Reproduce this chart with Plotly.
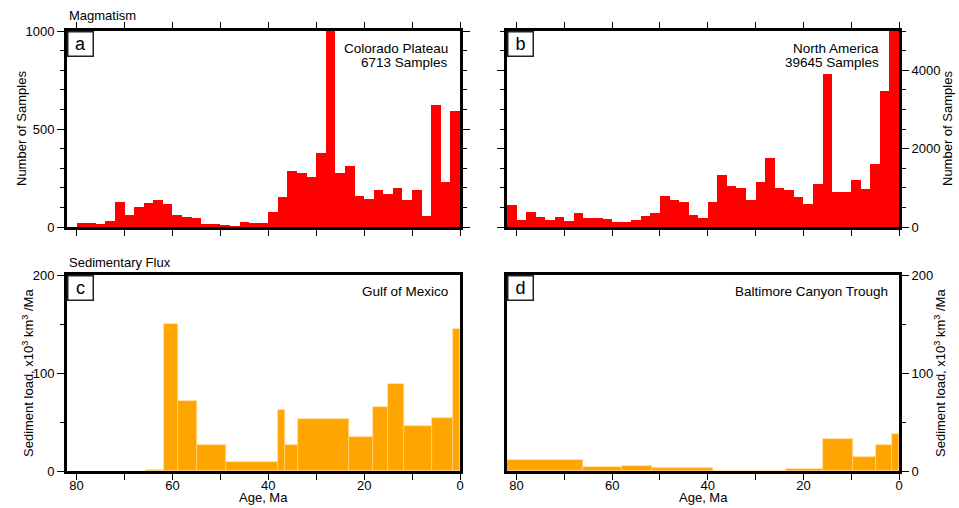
import plotly.graph_objects as go

# ---------------- data ----------------
# Panel a: Colorado Plateau, 2 Ma bins from 80 to 0 Ma (bin centres)
bins_a = [79, 77, 75, 73, 71, 69, 67, 65, 63, 61, 59, 57, 55, 53, 51, 49, 47, 45, 43, 41,
          39, 37, 35, 33, 31, 29, 27, 25, 23, 21, 19, 17, 15, 13, 11, 9, 7, 5, 3, 1]
counts_a = [20, 20, 15, 30, 128, 61, 102, 122, 138, 117, 61, 51, 46, 15, 15, 10, 2, 25, 20, 20,
            77, 153, 286, 276, 255, 378, 1050, 276, 311, 158, 143, 189, 168, 199, 138, 189, 56, 622, 230, 592]

# Panel b: North America, 2 Ma bins from 82 to 0 Ma (bin centres)
bins_b = [81, 79, 77, 75, 73, 71, 69, 67, 65, 63, 61, 59, 57, 55, 53, 51, 49, 47, 45, 43, 41,
          39, 37, 35, 33, 31, 29, 27, 25, 23, 21, 19, 17, 15, 13, 11, 9, 7, 5, 3, 1]
counts_b = [561, 179, 383, 255, 179, 255, 153, 357, 230, 230, 204, 128, 128, 179, 281, 357, 791, 689, 638, 306, 230,
            638, 1327, 1046, 995, 689, 1148, 1760, 995, 944, 765, 587, 1097, 3903, 893, 893, 1199, 969, 1607, 3469, 8000]

# Panel c: Gulf of Mexico sediment flux (interval edges in Ma, values)
edges_c = [65.5, 61.8, 58.8, 54.8, 48.9, 38.0, 36.6, 33.9, 23.1, 18.1, 15.0, 11.6, 5.8, 1.5, 0.0]
flux_c = [1.5, 150, 71, 27, 9, 62, 27, 53, 35, 65, 89, 46, 54, 145]

# Panel d: Baltimore Canyon Trough
edges_d = [85.0, 66.0, 57.9, 51.6, 39.0, 23.7, 16.0, 9.6, 4.8, 1.45, 0.0]
flux_d = [11, 3.8, 4.8, 2.7, 0, 1.7, 32.5, 14.7, 27, 38]

age_ticks = [0, 20, 40, 60, 80]

RED = "#FF0000"
ORANGE = "#FFA500"
FONT = "Liberation Sans, Arial, Helvetica, sans-serif"

W, H = 959, 508


def px(x):
    return x / W


def py(y):
    return 1 - y / H


def steps(edges):
    centers = [(edges[i] + edges[i + 1]) / 2 for i in range(len(edges) - 1)]
    widths = [edges[i] - edges[i + 1] for i in range(len(edges) - 1)]
    return centers, widths


fig = go.Figure()
fig.add_trace(go.Bar(x=bins_a, y=counts_a, width=[2] * len(bins_a), marker=dict(color=RED, line=dict(width=0)),
                     xaxis="x", yaxis="y", showlegend=False))
fig.add_trace(go.Bar(x=bins_b, y=counts_b, width=[2] * len(bins_b), marker=dict(color=RED, line=dict(width=0)),
                     xaxis="x2", yaxis="y2", showlegend=False))
cc, wc = steps(edges_c)
fig.add_trace(go.Bar(x=cc, y=flux_c, width=wc, marker=dict(color=ORANGE, line=dict(width=0.6, color="#FFD890")),
                     xaxis="x3", yaxis="y3", showlegend=False))
cd, wd = steps(edges_d)
fig.add_trace(go.Bar(x=cd, y=flux_d, width=wd, marker=dict(color=ORANGE, line=dict(width=0.6, color="#FFD890")),
                     xaxis="x4", yaxis="y4", showlegend=False))

dom_xl = [px(67), px(460)]
dom_xr = [px(507), px(899)]
dom_yt = [py(227), py(31)]
dom_yb = [py(471), py(275)]

tickfont = dict(family=FONT, size=13, color="black")


def xax(domain, anchor, labels, top_ticks):
    return dict(domain=domain, anchor=anchor, range=[82, 0], tickvals=age_ticks,
                ticks="outside", ticklen=6, tickwidth=1, tickcolor="black",
                showticklabels=labels, tickfont=tickfont, automargin=False,
                ticklabelstandoff=-6,
                minor=dict(dtick=10, tick0=0, ticks="outside", ticklen=6, tickwidth=1, tickcolor="black", showgrid=False),
                showline=True, linewidth=3, linecolor="black",
                mirror="allticks" if top_ticks else True,
                showgrid=False, zeroline=False, fixedrange=True)


def yax(domain, anchor, rng, tickvals, minor, side, mirror_ticks):
    return dict(domain=domain, anchor=anchor, range=rng, tickvals=tickvals, side=side,
                ticks="outside", ticklen=7, tickwidth=1, tickcolor="black", tickfont=tickfont, automargin=False,
                minor=dict(dtick=minor, tick0=0, ticks="outside", ticklen=4, tickwidth=1, tickcolor="black", showgrid=False),
                showline=True, linewidth=3, linecolor="black",
                mirror="allticks" if mirror_ticks else True,
                showgrid=False, zeroline=False, fixedrange=True)


fig.update_layout(
    template="none",
    width=W, height=H,
    margin=dict(l=0, r=0, t=0, b=0),
    paper_bgcolor="white", plot_bgcolor="white",
    bargap=0,
    font=dict(family=FONT, size=13, color="black"),
    xaxis=xax(dom_xl, "y", False, True),
    xaxis2=xax(dom_xr, "y2", False, True),
    xaxis3=xax(dom_xl, "y3", True, False),
    xaxis4=xax(dom_xr, "y4", True, False),
    yaxis=yax(dom_yt, "x", [0, 1000], [0, 500, 1000], 100, "left", True),
    yaxis2=yax(dom_yt, "x2", [0, 5000], [0, 2000, 4000], 500, "right", True),
    yaxis3=yax(dom_yb, "x3", [0, 200], [0, 100, 200], 50, "left", False),
    yaxis4=yax(dom_yb, "x4", [0, 200], [0, 100, 200], 50, "right", False),
)

ann = []
txt = dict(family=FONT, size=13, color="black")
# section titles
ann.append(dict(text="Magmatism", x=px(67), y=py(16), xanchor="left", yanchor="middle", font=txt))
ann.append(dict(text="Sedimentary Flux", x=px(67), y=py(262), xanchor="left", yanchor="middle", font=txt))
# axis titles
ann.append(dict(text="Number of Samples", x=px(21), y=py(129), textangle=-90, xanchor="center", yanchor="middle", font=txt))
ann.append(dict(text="Number of Samples", x=px(947), y=py(129), textangle=-90, xanchor="center", yanchor="middle", font=txt))
sed = "Sediment load, x10<sup>3</sup> km<sup>3</sup> /Ma"
ann.append(dict(text=sed, x=px(28), y=py(373), textangle=-90, xanchor="center", yanchor="middle", font=txt))
ann.append(dict(text=sed, x=px(940), y=py(373), textangle=-90, xanchor="center", yanchor="middle", font=txt))
ann.append(dict(text="Age, Ma", x=px(263.5), y=py(497), xanchor="center", yanchor="middle", font=txt))
ann.append(dict(text="Age, Ma", x=px(703), y=py(497), xanchor="center", yanchor="middle", font=txt))
# in-panel labels
lab = dict(family=FONT, size=13.5, color="black")
ann.append(dict(text="Colorado Plateau", x=px(450), y=py(48), xanchor="right", yanchor="middle", font=lab))
ann.append(dict(text="6713 Samples", x=px(450), y=py(62), xanchor="right", yanchor="middle", font=lab))
ann.append(dict(text="North America", x=px(881), y=py(48), xanchor="right", yanchor="middle", font=lab))
ann.append(dict(text="39645 Samples", x=px(881), y=py(62), xanchor="right", yanchor="middle", font=lab))
ann.append(dict(text="Gulf of Mexico", x=px(450), y=py(291), xanchor="right", yanchor="middle", font=lab))
ann.append(dict(text="Baltimore Canyon Trough", x=px(890), y=py(291), xanchor="right", yanchor="middle", font=lab))
# panel letters
for letter, xl, yt in [("a", 67, 31), ("b", 507, 31), ("c", 67, 275), ("d", 507, 275)]:
    ann.append(dict(text=letter, x=px(xl), y=py(yt), xanchor="left", yanchor="top",
                    width=24, height=23, borderpad=0, borderwidth=1.5, bordercolor="#222",
                    bgcolor="white", align="center", valign="middle",
                    font=dict(family=FONT, size=18, color="black")))
for a in ann:
    a.setdefault("xref", "paper")
    a.setdefault("yref", "paper")
    a.setdefault("showarrow", False)
fig.update_layout(annotations=ann)

fig.write_html("out.html", config={"displayModeBar": False},
               post_script="document.body.style.margin='0';document.body.style.padding='0';")
